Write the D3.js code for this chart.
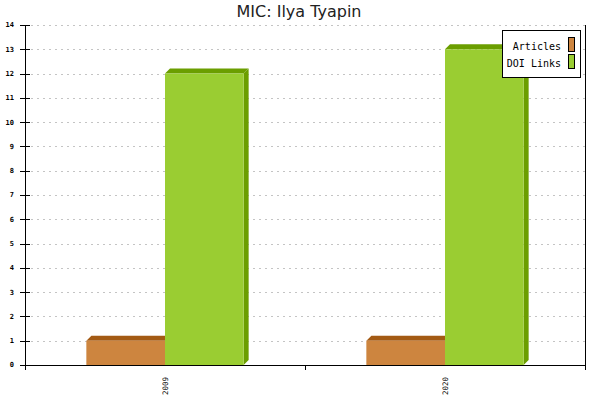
<!DOCTYPE html>
<html><head><meta charset="utf-8">
<script src="https://cdn.jsdelivr.net/npm/d3@7"></script>
<style>body{margin:0;background:#fff}</style>
</head><body>
<script>
const categories = ["2009", "2020"];
const seriesNames = ["Articles", "DOI Links"];
const articles = [1, 1];
const doiLinks = [12, 13];
const yTicks = [0,1,2,3,4,5,6,7,8,9,10,11,12,13,14];
const front = ["#CD853F", "#9ACD32"];
const dark = ["#A35A14", "#6B9E00"];

(function(){
const W = 600, H = 400;
const svg = d3.select("body").append("svg").attr("width", W).attr("height", H)
  .style("font-family", "DejaVu Sans Mono, monospace");

const pL = 25, pR = 585, pT = 25, pB = 365;
const y = d3.scaleLinear().domain([0, 14]).range([pB, pT]);
const x0 = d3.scaleBand().domain(categories).range([pL, pR]);
const x1 = d3.scaleBand().domain(seriesNames).range([0, x0.bandwidth()]).paddingInner(0).paddingOuter(0.78);
const values = [articles, doiLinks];
const D = 5;

svg.append("text").attr("x", 299).attr("y", 17).attr("text-anchor", "middle")
  .style("font-family", "DejaVu Sans, sans-serif").style("font-size", "16px").attr("fill", "#222")
  .text("MIC: Ilya Tyapin");

svg.append("g").selectAll("line").data(yTicks.filter(t => t > 0)).join("line")
  .attr("x1", pL + 6).attr("x2", pR).attr("y1", d => Math.round(y(d)) + 0.5).attr("y2", d => Math.round(y(d)) + 0.5)
  .attr("stroke", "#c4c4c4").attr("stroke-dasharray", "2,4");

const g = svg.append("g");
categories.forEach((c, ci) => {
  seriesNames.forEach((s, si) => {
    const v = values[si][ci];
    const bx = x0(c) + x1(s), bw = x1.bandwidth();
    const yt = y(v), yb = y(0);
    g.append("path").attr("d", `M${bx+bw},${yt} L${bx+bw+D},${yt-D} L${bx+bw+D},${yb-D} L${bx+bw},${yb} Z`).attr("fill", dark[si]);
    g.append("path").attr("d", `M${bx},${yt} L${bx+D},${yt-D} L${bx+bw+D},${yt-D} L${bx+bw},${yt} Z`).attr("fill", dark[si]);
    g.append("rect").attr("x", bx).attr("y", yt).attr("width", bw).attr("height", yb - yt).attr("fill", front[si]);
  });
});

const ax = svg.append("g").attr("stroke", "#000").attr("stroke-width", 1).attr("shape-rendering", "crispEdges");
ax.append("line").attr("x1", pL).attr("x2", pL).attr("y1", pT).attr("y2", pB + 5);
ax.append("line").attr("x1", pR).attr("x2", pR).attr("y1", pT).attr("y2", pB + 5);
ax.append("line").attr("x1", pL).attr("x2", pR).attr("y1", pB).attr("y2", pB);
ax.selectAll(".yt").data(yTicks).join("line").attr("class", "yt")
  .attr("x1", pL - 5).attr("x2", pL + 5).attr("y1", d => Math.round(y(d))).attr("y2", d => Math.round(y(d)));
const xTickPos = [pL, ...categories.slice(1).map(c => x0(c)), pR];
ax.selectAll(".xt").data(xTickPos).join("line").attr("class", "xt")
  .attr("x1", d => d).attr("x2", d => d).attr("y1", pB).attr("y2", pB + 5);

svg.append("g").selectAll("text").data(yTicks).join("text")
  .attr("x", 14).attr("y", d => y(d)).attr("dy", "0.35em").attr("text-anchor", "end")
  .style("font-size", "7px").style("font-weight", "bold").text(d => d);

svg.append("g").selectAll("text").data(categories).join("text")
  .attr("transform", c => `translate(${x0(c) + x0.bandwidth()/2 + 2.5},${pB + 12}) rotate(-90)`)
  .attr("text-anchor", "end").style("font-size", "7.5px").text(c => c);

const lg = svg.append("g");
lg.append("rect").attr("x", 502.5).attr("y", 30.5).attr("width", 78).attr("height", 47).attr("fill", "#fff").attr("stroke", "#000");
seriesNames.forEach((s, i) => {
  lg.append("text").attr("x", 561).attr("y", 50 + i * 17).attr("text-anchor", "end").style("font-size", "10px").text(s);
  lg.append("rect").attr("x", 568.5).attr("y", 37.5 + i * 17).attr("width", 6).attr("height", 14).attr("fill", front[i]).attr("stroke", "#000");
});
})();
</script>
</body></html>
